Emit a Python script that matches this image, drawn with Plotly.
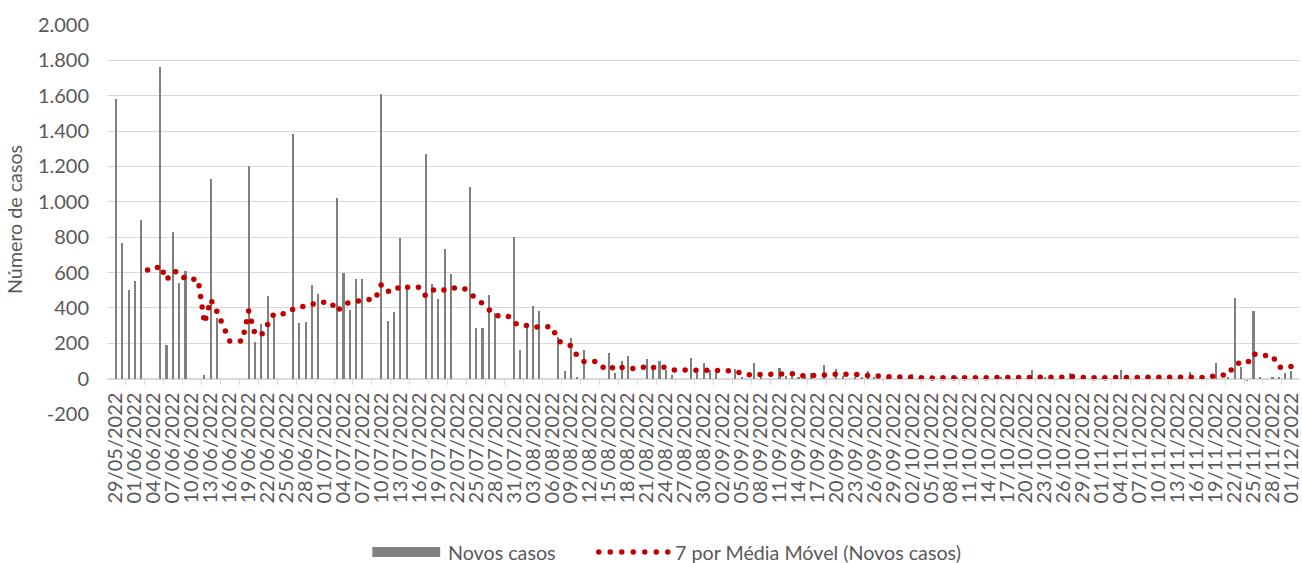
import pandas as pd
import plotly.graph_objects as go

# ---------------- data ----------------
dates = pd.date_range("2022-05-29", "2022-12-01", freq="D")

novos_casos = [
    1580, 765, 500, 550, 900, 0, 0, 1765, 190, 830,          # 0-9
    540, 610, 0, 0, 18, 1130, 345, 0, 0, 0,                   # 10-19
    0, 1205, 210, 310, 470, 372, 0, 0, 1385, 312,             # 20-29
    320, 527, 480, 0, 0, 1022, 598, 387, 566, 566,            # 30-39
    0, 0, 1611, 325, 376, 796, 512, 0, 0, 1270,               # 40-49
    538, 452, 736, 589, 0, 0, 1082, 284, 285, 474,            # 50-59
    369, 0, 0, 800, 160, 297, 410, 384, 0, 0,                 # 60-69
    237, 41, 228, 9, 164, 0, 0, 0, 143, 34,                   # 70-79
    100, 126, 0, 0, 109, 66, 100, 48, 20, 0,                  # 80-89
    0, 115, 30, 90, 49, 30, 0, 0, 53, 9,                      # 90-99
    0, 90, 6, 0, 0, 62, 15, 20, 10, 8,                        # 100-109
    34, 0, 75, 0, 53, 15, 0, 5, 8, 43,                        # 110-119
    12, 0, 5, 0, 0, 0, 24, 3, 0, 0,                           # 120-129
    0, 0, 0, 8, 0, 0, 0, 0, 0, 0,                             # 130-139
    5, 0, 0, 0, 0, 49, 0, 5, 0, 0,                            # 140-149
    0, 34, 0, 0, 0, 0, 3, 0, 0, 49,                           # 150-159
    0, 0, 0, 5, 0, 0, 0, 0, 0, 0,                             # 160-169
    36, 0, 11, 0, 90, 0, 5, 457, 68, -12,                     # 170-179
    380, 10, 0, 12, 5, 30, 45,                                # 180-186
]

media_movel = [
    None, None, None, None, None, 614, 614, 640, 558, 605,
    604, 562, 562, 562, 313, 447, 378, 300, 213, 213,
    213, 383, 251, 246, 314, 367, 367, 367, 392, 407,
    408, 417, 432, 432, 432, 380, 421, 431, 436, 448,
    448, 448, 533, 494, 492, 525, 517, 517, 517, 468,
    499, 510, 501, 512, 512, 512, 485, 449, 425, 388,
    356, 356, 356, 316, 298, 300, 291, 293, 293, 293,
    213, 196, 186, 128, 97, 97, 97, 63, 78, 50,
    63, 58, 58, 58, 73, 62, 72, 64, 49, 49,
    49, 50, 45, 43, 43, 45, 45, 45, 36, 33,
    20, 26, 23, 23, 23, 24, 25, 28, 16, 16,
    21, 21, 23, 21, 26, 26, 25, 21, 22, 18,
    19, 12, 10, 10, 10, 9, 6, 5, 5, 4,
    4, 4, 4, 2, 1, 1, 1, 1, 1, 1,
    1, 1, 1, 1, 1, 8, 8, 8, 8, 8,
    8, 13, 6, 6, 5, 5, 5, 5, 0, 7,
    7, 7, 7, 8, 8, 8, 1, 1, 1, 1,
    5, 5, 7, 7, 20, 20, 20, 80, 90, 87,
    141, 130, 130, 131, 66, 61, 69,
]

y_tick_vals = [-200, 0, 200, 400, 600, 800, 1000, 1200, 1400, 1600, 1800, 2000]
y_tick_text = ["-200", "0", "200", "400", "600", "800", "1.000", "1.200",
               "1.400", "1.600", "1.800", "2.000"]

legend_bar = "Novos casos"
legend_line = "7 por Média Móvel (Novos casos)"
y_title = "Número de casos"

# ---------------- layout constants ----------------
W, H = 1302, 563
ML, MR, MT, MB = 107, 0, 25, 149
PW, PH = W - ML - MR, H - MT - MB
DAY = pd.Timedelta(days=1)
DAY_MS = 86400000
FONT = "Lato"
TXT = "#595959"
GRID = "#d9d9d9"
BAR = "#808080"
RED = "#c00000"
TICK_SIZE = 20
TEXT_SIZE = 19.7


def px_x(px):
    return (px - ML) / PW


def px_y(py):
    return (H - MB - py) / PH


fig = go.Figure()
fig.add_trace(go.Bar(x=dates, y=novos_casos, name=legend_bar,
                     marker=dict(color=BAR, line=dict(width=0)),
                     width=0.33 * DAY_MS))
fig.add_trace(go.Scatter(x=dates, y=media_movel, name=legend_line, mode="lines",
                         line=dict(color=RED, width=5.5, dash="0px,10.8px"),
                         connectgaps=False))

ymin, ymax = -200, 2000
fig.update_layout(
    width=W, height=H,
    margin=dict(l=ML, r=MR, t=MT, b=MB, pad=0),
    plot_bgcolor="white", paper_bgcolor="white",
    showlegend=False,
    font=dict(family=FONT, size=TEXT_SIZE, color=TXT),
    bargap=0,
)

fig.update_xaxes(
    type="date",
    range=[dates[0] - 1.42 * DAY, dates[0] + 187.2 * DAY],
    tickmode="linear", tick0=dates[0], dtick=3 * DAY_MS,
    tickformat="%d/%m/%Y", tickangle=-90,
    tickfont=dict(family=FONT, size=TICK_SIZE, color=TXT),
    ticklabeloverflow="allow", ticklabelstandoff=5,
    ticks="", showgrid=False,
    showline=True, linecolor=GRID, linewidth=1,
    anchor="free", position=(0 - ymin) / (ymax - ymin),
    minor=dict(ticks="outside", ticklen=5, tickcolor=GRID, tickwidth=1,
               tick0=dates[0] - 1.5 * DAY, dtick=3 * DAY_MS, showgrid=False),
    fixedrange=True,
)
fig.update_yaxes(
    range=[ymin, ymax],
    tickmode="array", tickvals=y_tick_vals, ticktext=y_tick_text,
    tickfont=dict(family=FONT, size=TICK_SIZE, color=TXT),
    showgrid=True, gridcolor=GRID, gridwidth=1,
    zeroline=False, showline=False, ticks="",
    ticklabelstandoff=17,
    title=dict(text=y_title, font=dict(family=FONT, size=TEXT_SIZE, color=TXT), standoff=9),
    fixedrange=True,
)

# ---------------- manual legend (bottom centre) ----------------
fig.add_shape(type="rect", xref="paper", yref="paper",
              x0=px_x(373), x1=px_x(441), y0=px_y(557), y1=px_y(547),
              fillcolor=BAR, line=dict(width=0))
fig.add_annotation(text=legend_bar, xref="paper", yref="paper",
                   x=px_x(447), y=px_y(552), xanchor="left", yanchor="middle",
                   showarrow=False, font=dict(family=FONT, size=TEXT_SIZE, color=TXT))
fig.add_shape(type="line", xref="paper", yref="paper",
              x0=px_x(600), x1=px_x(670), y0=px_y(552), y1=px_y(552),
              line=dict(color=RED, width=5.5, dash="0px,11.5px"))
fig.add_annotation(text=legend_line, xref="paper", yref="paper",
                   x=px_x(674), y=px_y(552), xanchor="left", yanchor="middle",
                   showarrow=False, font=dict(family=FONT, size=TEXT_SIZE, color=TXT))

post_js = """
document.documentElement.style.margin='0';
document.body.style.margin='0';
document.body.style.padding='0';
var gd = document.getElementById('{plot_id}');
function roundCaps(){
  gd.querySelectorAll('.scatterlayer path.js-line').forEach(function(p){p.style.strokeLinecap='round';});
  gd.querySelectorAll('.shapelayer path').forEach(function(p){p.style.strokeLinecap='round';});
}
roundCaps();
gd.on('plotly_afterplot', roundCaps);
"""

fig.write_html("out.html", post_script=post_js, config={"displayModeBar": False})
